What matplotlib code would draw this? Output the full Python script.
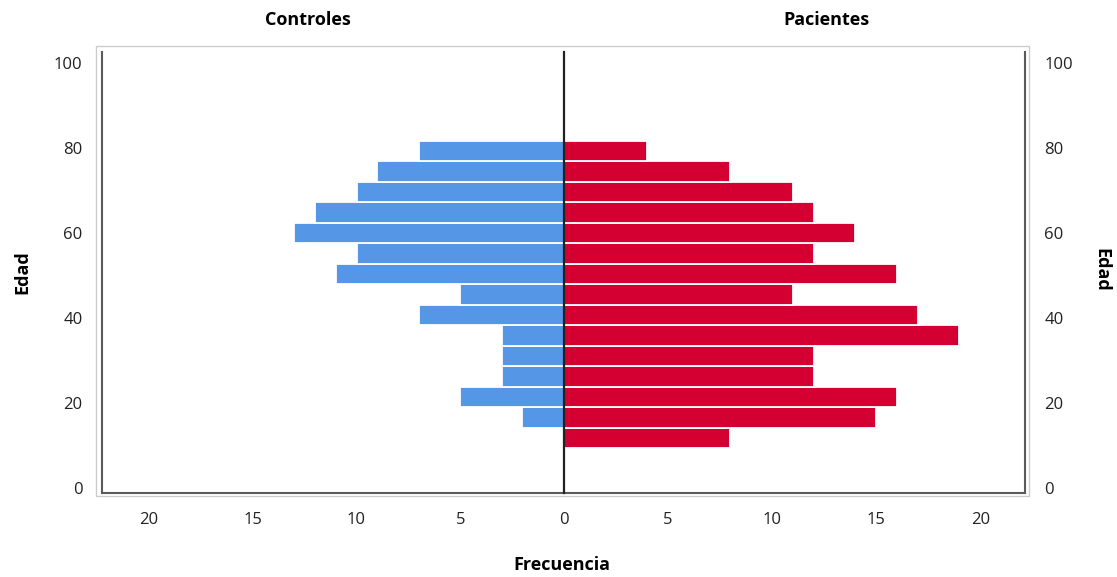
import matplotlib.pyplot as plt
from matplotlib.patches import Rectangle

plt.rcParams['font.family'] = ['Open Sans', 'DejaVu Sans']

# centro de cada intervalo de edad (de abajo hacia arriba)
edad = [11.8, 16.6, 21.4, 26.2, 31.1, 35.9, 40.7, 45.5, 50.4, 55.2, 60.0, 64.8, 69.6, 74.5, 79.3]
controles = [0, 2, 5, 3, 3, 3, 7, 5, 11, 10, 13, 12, 10, 9, 7]
pacientes = [8, 15, 16, 12, 12, 19, 17, 11, 16, 12, 14, 12, 11, 8, 4]
ancho = 4.82

yticks = [0, 20, 40, 60, 80, 100]
xticks = [0, 5, 10, 15, 20]

fig = plt.figure(figsize=(11.17, 5.77), dpi=100)
ax1 = fig.add_axes([0.0913, 0.1456, 0.4136, 0.7643])
ax2 = fig.add_axes([0.5049, 0.1456, 0.4127, 0.7643])

ax1.barh(edad, controles, height=ancho, color='#5596E6', edgecolor='white', linewidth=1.3)
ax2.barh(edad, pacientes, height=ancho, color='#D50032', edgecolor='white', linewidth=1.3)

ax1.set_xlim(22.27, 0)
ax2.set_xlim(0, 22.15)
for ax in (ax1, ax2):
    ax.set_ylim(-1.2, 102.6)
    ax.set_yticks(yticks)
    ax.tick_params(length=0, labelsize=12, colors='#222222')
    ax.spines['top'].set_visible(False)
ax1.set_xticks(xticks)
ax2.set_xticks(xticks[1:])  # el 0 ya lo pone el panel izquierdo

ax1.tick_params(axis='y', pad=14)
ax1.tick_params(axis='x', pad=14)
ax2.tick_params(axis='x', pad=14)
ax2.yaxis.tick_right()
ax2.tick_params(axis='y', pad=14, labelleft=False, labelright=True)

ax1.spines['right'].set_visible(False)
ax2.spines['left'].set_color('#222222')
ax2.spines['left'].set_linewidth(1.6)
ax2.spines['left'].set_zorder(5)
for sp in (ax1.spines['left'], ax1.spines['bottom'], ax2.spines['right'], ax2.spines['bottom']):
    sp.set_color('#5a5a5a')
    sp.set_linewidth(1.5)

# marco gris exterior
fig.patches.append(Rectangle((96 / 1117, 1 - 496 / 577), 933 / 1117, 450 / 577,
                             transform=fig.transFigure, fill=False,
                             edgecolor='#cccccc', linewidth=1))

fig.text(0.276, 0.965, 'Controles', ha='center', va='center', fontsize=13, fontweight='bold')
fig.text(0.7395, 0.965, 'Pacientes', ha='center', va='center', fontsize=13, fontweight='bold')
fig.text(0.0197, 0.529, 'Edad', ha='center', va='center', rotation=90, fontsize=13, fontweight='bold')
fig.text(0.9857, 0.532, 'Edad', ha='center', va='center', rotation=270, fontsize=13, fontweight='bold')
fig.text(0.503, 0.021, 'Frecuencia', ha='center', va='center', fontsize=13, fontweight='bold')

fig.savefig('out.png', dpi=100)
